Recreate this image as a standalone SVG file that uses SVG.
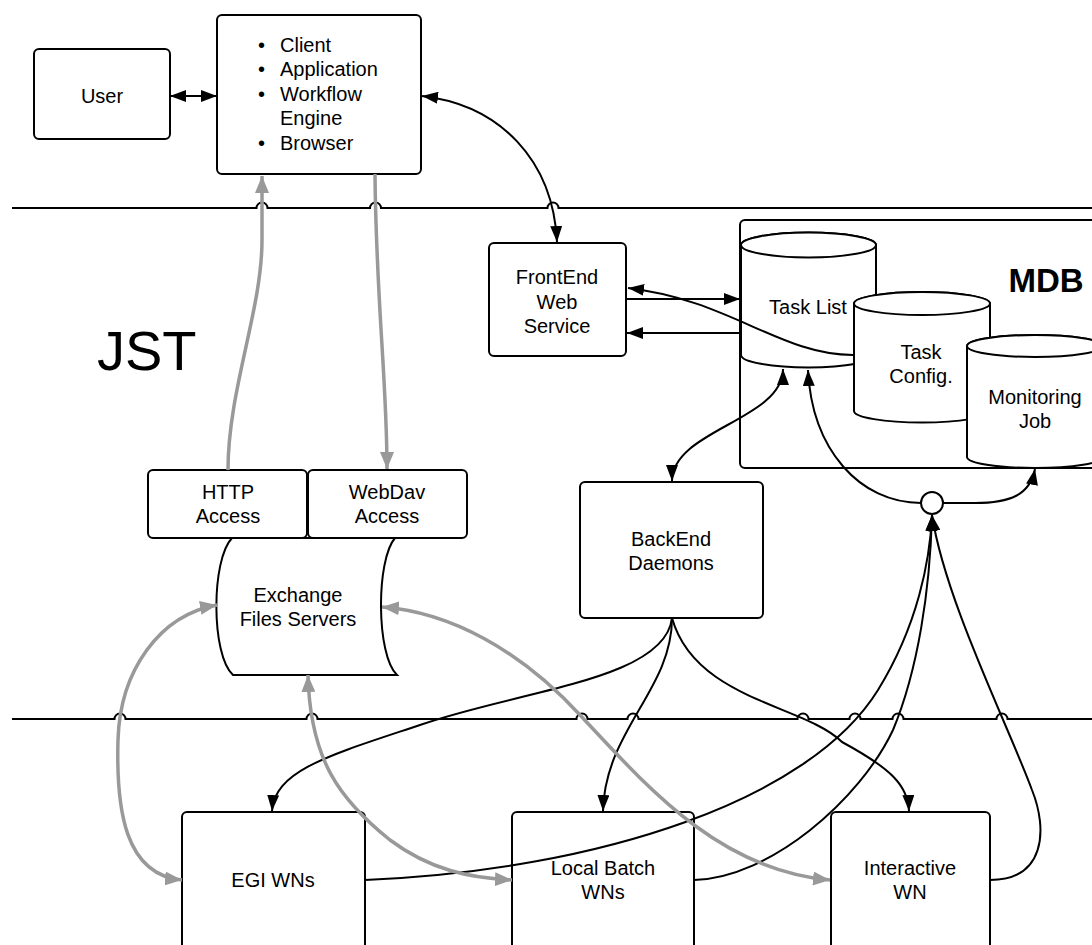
<svg xmlns="http://www.w3.org/2000/svg" width="1092" height="945" viewBox="0 0 1092 945">
<defs>
<style>
.box{fill:#fff;stroke:#000;stroke-width:2}
.t{font-family:"Liberation Sans",Arial,sans-serif;font-size:20px;fill:#000;text-anchor:middle}
.tl{text-anchor:start}
.dv{fill:none;stroke:#000;stroke-width:2}
.c{fill:none;stroke:#000;stroke-width:2}
.g{fill:none;stroke:#999;stroke-width:3.5}
.ae{marker-end:url(#ah)}
.as{marker-start:url(#ah)}
.ge{marker-end:url(#gh)}
.gs{marker-start:url(#gh)}
</style>
<marker id="ah" markerUnits="userSpaceOnUse" viewBox="0 0 16 12" markerWidth="16" markerHeight="12" refX="16" refY="6" orient="auto-start-reverse"><path d="M0,0 L16,6 L0,12 z" fill="#000"/></marker>
<marker id="gh" markerUnits="userSpaceOnUse" viewBox="0 0 17 14" markerWidth="17" markerHeight="14" refX="17" refY="7" orient="auto-start-reverse"><path d="M0,0 L17,7 L0,14 z" fill="#999"/></marker>
</defs>
<rect x="0" y="0" width="1092" height="945" fill="#fff"/>

<g id="dividers">
<path class="dv" d="M12,208 H256.5 A5.5,5.5 0 0 1 267.5,208 H370 A5.5,5.5 0 0 1 381,208 H547.5 A5.5,5.5 0 0 1 558.5,208 H1092"/>
<path class="dv" d="M12,719 H114.5 A5.5,5.5 0 0 1 125.5,719 H306.5 A5.5,5.5 0 0 1 317.5,719 H576.5 A5.5,5.5 0 0 1 587.5,719 H627.5 A5.5,5.5 0 0 1 638.5,719 H797.5 A5.5,5.5 0 0 1 808.5,719 H849.5 A5.5,5.5 0 0 1 860.5,719 H892.5 A5.5,5.5 0 0 1 903.5,719 H996.5 A5.5,5.5 0 0 1 1007.5,719 H1092"/>
</g>

<g id="jst-label"><text class="t tl" x="97" y="370" style="font-size:56px">JST</text></g>

<g id="user"><rect class="box" x="34" y="49" width="136" height="90" rx="5"/><text class="t" x="102" y="103">User</text></g>

<g id="client">
<rect class="box" x="217" y="15" width="204" height="159" rx="5"/>
<text class="t tl" x="258" y="52">•</text><text class="t tl" x="280" y="52">Client</text>
<text class="t tl" x="258" y="76">•</text><text class="t tl" x="280" y="76">Application</text>
<text class="t tl" x="258" y="101">•</text><text class="t tl" x="280" y="101">Workflow</text>
<text class="t tl" x="280" y="125">Engine</text>
<text class="t tl" x="258" y="150">•</text><text class="t tl" x="280" y="150">Browser</text>
</g>

<g id="frontend"><rect class="box" x="489" y="243" width="137" height="113" rx="5"/>
<text class="t" x="557" y="284">FrontEnd</text><text class="t" x="557" y="309">Web</text><text class="t" x="557" y="333">Service</text></g>

<g id="mdb">
<rect class="box" x="740" y="220" width="400" height="248" rx="5"/>
<text class="t" x="1046" y="292" style="font-size:33px;font-weight:bold">MDB</text>
</g>

<g id="task-list">
<path class="box" d="M741,245 V355 A67.5,12.5 0 0 0 876,355 V245 A67.5,12.5 0 0 0 741,245 Z"/>
<ellipse class="box" cx="808.5" cy="245" rx="67.5" ry="12.5"/>
<text class="t" x="808" y="314">Task List</text>
</g>

<g id="task-config">
<path class="box" d="M854,303.5 V411 A68,11.5 0 0 0 990,411 V303.5 A68,11.5 0 0 0 854,303.5 Z"/>
<ellipse class="box" cx="922" cy="303.5" rx="68" ry="11.5"/>
<text class="t" x="921" y="359">Task</text><text class="t" x="921" y="383">Config.</text>
</g>

<g id="monitoring-job">
<path class="box" d="M967,346 V457 A68,11 0 0 0 1103,457 V346 A68,11 0 0 0 967,346 Z"/>
<ellipse class="box" cx="1035" cy="346" rx="68" ry="11"/>
<text class="t" x="1035" y="404">Monitoring</text><text class="t" x="1035" y="428">Job</text>
</g>

<g id="http-access"><rect class="box" x="148" y="470" width="159" height="68" rx="5"/>
<text class="t" x="228" y="499">HTTP</text><text class="t" x="228" y="523">Access</text></g>

<g id="webdav-access"><rect class="box" x="308" y="470" width="159" height="68" rx="5"/>
<text class="t" x="387" y="499">WebDav</text><text class="t" x="387" y="523">Access</text></g>

<g id="exchange">
<path class="box" d="M232,538 L395,538 C376,560 376,655 397,675 L233,675 C211,655 211,560 232,538 Z"/>
<text class="t" x="298" y="602">Exchange</text><text class="t" x="298" y="626">Files Servers</text>
</g>

<g id="backend"><rect class="box" x="580" y="482" width="183" height="136" rx="5"/>
<text class="t" x="671" y="546">BackEnd</text><text class="t" x="671" y="570">Daemons</text></g>

<g id="egi-wns"><rect class="box" x="182" y="812" width="183" height="150" rx="5"/>
<text class="t" x="273" y="887">EGI WNs</text></g>

<g id="local-batch-wns"><rect class="box" x="512" y="812" width="182" height="150" rx="5"/>
<text class="t" x="603" y="875">Local Batch</text><text class="t" x="603" y="899">WNs</text></g>

<g id="interactive-wn"><rect class="box" x="831" y="812" width="159" height="150" rx="5"/>
<text class="t" x="910" y="875">Interactive</text><text class="t" x="910" y="899">WN</text></g>

<g id="junction"><circle class="box" cx="932" cy="503" r="11"/></g>

<g id="connectors">
<path class="c as ae" d="M170,96 H217"/>
<path class="c as ae" d="M422,96 C500,105 553,160 557,242"/>
<path class="g ge" d="M228,470 C228,390 262,310 262,240 L262,176"/>
<path class="g ge" d="M375,174 C376,300 387,380 387,469"/>
<path class="c ae" d="M627,299 H740"/>
<path class="c ae" d="M740,333 H627"/>
<path class="c ae" d="M853,355 C780,355 730,300 628,288"/>
<path class="c as ae" d="M783,369 C783,420 672,430 672,481"/>
<path class="c ae" d="M921,503 C860,503 812,450 808,370"/>
<path class="c ae" d="M943,503 L975,503 C1010,503 1030,495 1035,469"/>
<path class="c ae" d="M365,880 C600,870 810,800 878,690 C918,625 930,560 932,515"/>
<path class="c ae" d="M694,880 C770,878 860,800 893,730 C918,670 930,590 932,515"/>
<path class="c ae" d="M990,880 C1045,880 1048,830 1032,790 C1008,725 945,600 932,515"/>
<path class="c ae" d="M672,618 C665,680 520,690 420,725 C330,755 275,770 272,811"/>
<path class="c ae" d="M672,618 C672,690 605,730 603,811"/>
<path class="c ae" d="M672,618 C695,700 805,705 842,742 C890,768 908,785 909,811"/>
<path class="g gs ge" d="M217,605 C160,615 120,670 118,740 C116,810 125,875 182,880"/>
<path class="g gs ge" d="M308,675 C310,760 340,800 390,840 C430,870 470,878 512,880"/>
<path class="g gs ge" d="M382,607 C450,612 520,650 580,715 C650,790 720,870 830,880"/>
</g>
</svg>
